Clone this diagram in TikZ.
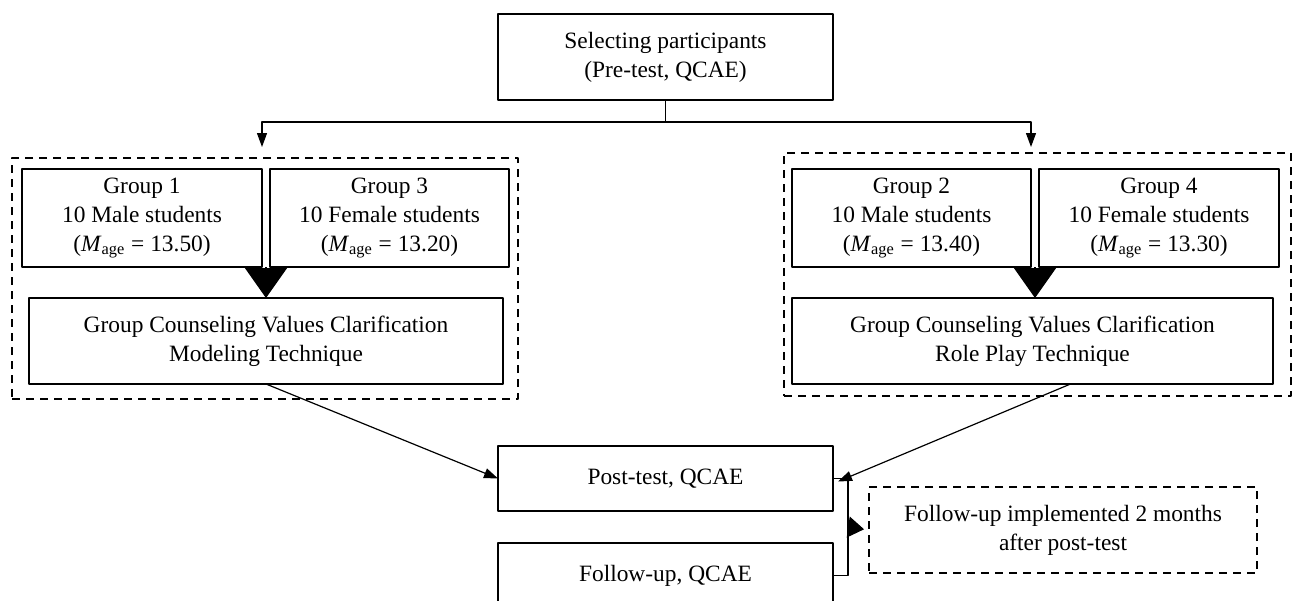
\documentclass[tikz,border=0pt]{standalone}
\usepackage{fontspec}
\setmainfont{Liberation Serif}
\usetikzlibrary{arrows.meta,calc}
\begin{document}
\begin{tikzpicture}[x=0.5pt, y=-0.5pt, font=\fontsize{11.7}{14.5}\selectfont, line join=round,
  box/.style={draw, line width=0.6pt, inner sep=0pt, outer sep=0pt, align=center},
  grpbox/.style={draw, line width=0.6pt, dash pattern=on 4pt off 3pt, inner sep=0pt, outer sep=0pt},
  arr/.style={line width=0.6pt, -{Triangle[length=7pt,width=5pt]}},
  bigarr/.style={line width=0.6pt, -{Triangle[length=15pt,width=21pt]}},
  sidearr/.style={line width=0.6pt, shorten >=2.5pt, -{Triangle[length=8pt,width=10.5pt]}}]
 \useasboundingbox (0,0) rectangle (1295,600);
 \clip (0,0) rectangle (1295,600);
 % dashed frames
 \node[grpbox, minimum width=253pt, minimum height=120.5pt] (lgrp) at (265,278.5) {};
 \node[grpbox, minimum width=253.5pt, minimum height=121.5pt] (rgrp) at (1037.5,274.5) {};
 % boxes
 \node[box, minimum width=167.5pt, minimum height=43pt] (sel) at (665.5,57) {Selecting participants\\(Pre-test, QCAE)};
 \node[box, minimum width=120pt, minimum height=49pt] (g1) at (142,218) {Group 1\\10 Male students\\(\textit{M}\textsubscript{age} = 13.50)};
 \node[box, minimum width=119.5pt, minimum height=49pt] (g3) at (389.5,218) {Group 3\\10 Female students\\(\textit{M}\textsubscript{age} = 13.20)};
 \node[box, minimum width=237pt, minimum height=43pt] (mod) at (266,341) {Group Counseling Values Clarification\\Modeling Technique};
 \node[box, minimum width=119.5pt, minimum height=49pt] (g2) at (911.5,218) {Group 2\\10 Male students\\(\textit{M}\textsubscript{age} = 13.40)};
 \node[box, minimum width=120pt, minimum height=49pt] (g4) at (1159,218) {Group 4\\10 Female students\\(\textit{M}\textsubscript{age} = 13.30)};
 \node[box, minimum width=240.5pt, minimum height=43pt] (role) at (1032.5,341) {Group Counseling Values Clarification\\Role Play Technique};
 \node[box, minimum width=167.5pt, minimum height=32.5pt] (post) at (665.5,478.5) {Post-test, QCAE};
 \node[box, minimum width=167.5pt, minimum height=32.5pt] (fol) at (665.5,575.5) {Follow-up, QCAE};
 \node[grpbox, align=center, minimum width=194pt, minimum height=43pt] (note) at (1063,530) {Follow-up implemented 2 months\\after post-test};
 % connectors
 \coordinate (split) at (665.5,122);
 \coordinate (tl) at (262,147);
 \coordinate (tr) at (1031,147);
 \draw[line width=0.6pt] (sel.south) -- (split);
 \draw[arr] (split) -| (tl);
 \draw[arr] (split) -| (tr);
 \coordinate (m1) at ($(g1.south east)!0.5!(g3.south west)$);
 \coordinate (m2) at ($(g2.south east)!0.5!(g4.south west)$);
 \draw[bigarr] (m1) -- (m1 |- mod.north);
 \draw[bigarr] (m2) -- (m2 |- role.north);
 \draw[arr] (mod.south) -- (post.west);
 \draw[arr] ([xshift=19pt]role.south) -- ([xshift=2.5pt,yshift=-1.5pt]post.east);
 \draw[line width=0.6pt] (post.east) -- ++(15,0) coordinate (bk) |- (fol.east);
 \draw[sidearr] ($(bk)!0.5!(bk |- fol.east)$) -- (note.west);
\end{tikzpicture}
\end{document}
